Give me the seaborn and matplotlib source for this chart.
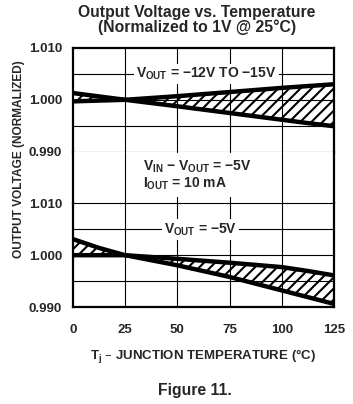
import matplotlib
matplotlib.use('Agg')
import matplotlib.pyplot as plt
import seaborn as sns
import numpy as np

# --- data (volts, normalized) ---
temps = [0, 12.5, 25, 50, 75, 100, 112.5, 125]

# V_OUT = -12V to -15V band
top_upper = [1.0013, 1.00065, 1.0000, 1.0007, 1.0015, 1.0023, 1.00265, 1.0030]
top_lower = [0.9997, 0.99985, 1.0000, 0.99875, 0.99745, 0.99615, 0.9955, 0.9949]

# V_OUT = -5V band
bot_upper = [1.0031, 1.0014, 1.0000, 0.9993, 0.99855, 0.9977, 0.99695, 0.9961]
bot_lower = [1.0000, 1.0000, 1.0000, 0.99805, 0.9958, 0.9932, 0.9919, 0.9906]

x_ticks = [0, 25, 50, 75, 100, 125]
y_ticks = [0.990, 1.000, 1.010]
y_ticklabels = ['0.990', '1.000', '1.010']

# --- style ---
sns.set_style('white')
plt.rcParams['hatch.linewidth'] = 1.5
plt.rcParams['hatch.color'] = 'black'
FONT = 'Liberation Sans'
plt.rcParams['font.family'] = [FONT, 'DejaVu Sans']
plt.rcParams['font.weight'] = 'bold'

fig = plt.figure(figsize=(3.53, 4.04), dpi=100)
gs = fig.add_gridspec(3, 1, height_ratios=[2, 1, 2], hspace=0,
                      left=73 / 353, right=334 / 353,
                      top=1 - 48 / 404, bottom=1 - 307 / 404)
ax_top = fig.add_subplot(gs[0])
ax_mid = fig.add_subplot(gs[1], sharex=ax_top)
ax_bot = fig.add_subplot(gs[2], sharex=ax_top)

THICK = 1.6
THIN = 0.8


def draw_band(ax, upper, lower):
    ax.fill_between(temps, upper, lower, facecolor='none', edgecolor='black',
                    hatch='///', linewidth=0, zorder=2)
    sns.lineplot(x=temps, y=upper, ax=ax, color='black', linewidth=3.2,
                 zorder=3, solid_capstyle='butt')
    sns.lineplot(x=temps, y=lower, ax=ax, color='black', linewidth=3.2,
                 zorder=3, solid_capstyle='butt')
    ax.set_ylim(0.990, 1.010)
    ax.set_yticks(y_ticks)
    ax.set_yticklabels(y_ticklabels)
    for yv in [0.995, 1.000, 1.005]:
        ax.axhline(yv, color='black', linewidth=THIN, zorder=1)


draw_band(ax_top, top_upper, top_lower)
draw_band(ax_bot, bot_upper, bot_lower)
ax_mid.set_ylim(0, 1)
ax_mid.set_yticks([])

for ax in (ax_top, ax_mid, ax_bot):
    ax.set_xlim(0, 125)
    ax.set_xticks(x_ticks)
    for xv in x_ticks[1:-1]:
        ax.axvline(xv, color='black', linewidth=THIN, zorder=1)
    for s in ax.spines.values():
        s.set_color('black')
        s.set_linewidth(THICK)
    ax.tick_params(length=0, labelsize=9.5, pad=8)
    ax.set_xlabel('')
    ax.set_ylabel('')
    for lab in ax.get_yticklabels() + ax.get_xticklabels():
        lab.set_fontweight('bold')

ax_top.spines['bottom'].set_linewidth(THIN)
ax_bot.spines['top'].set_linewidth(THIN)
ax_mid.spines['top'].set_visible(False)
ax_mid.spines['bottom'].set_visible(False)
ax_top.tick_params(labelbottom=False)
ax_mid.tick_params(labelbottom=False)
ax_bot.tick_params(axis='x', pad=12)

box = dict(facecolor='white', edgecolor='none', pad=1.5)
ax_top.text(64, 1.005, r'$\mathregular{V_{OUT}}$ = −12V TO −15V', ha='center',
            va='center', fontsize=10, fontweight='bold', bbox=box, zorder=4)
ax_bot.text(61, 1.005, r'$\mathregular{V_{OUT}}$ = −5V', ha='center',
            va='center', fontsize=10, fontweight='bold', bbox=box, zorder=4)
ax_mid.text(33.5, 0.54,
            '$\\mathregular{V_{IN}}$ − $\\mathregular{V_{OUT}}$ = −5V\n$\\mathregular{I_{OUT}}$ = 10 mA',
            ha='left', va='center', fontsize=10, fontweight='bold', linespacing=1.0,
            bbox=dict(facecolor='white', edgecolor='none', pad=4), zorder=4)

# titles and axis labels
fig.text(196.5 / 353, 1 - 12.7 / 404, 'Output Voltage vs. Temperature',
         ha='center', va='center', fontsize=11.3, fontweight='bold')
fig.text(197 / 353, 1 - 27 / 404, '(Normalized to 1V @ 25°C)',
         ha='center', va='center', fontsize=11.3, fontweight='bold')
fig.text(19 / 353, 1 - 159 / 404, 'OUTPUT VOLTAGE (NORMALIZED)', rotation=90,
         ha='center', va='center', fontsize=8.6, fontweight='bold')
fig.text(203 / 353, 1 - 357 / 404, r'$\mathregular{T_j}$ – JUNCTION TEMPERATURE (°C)',
         ha='center', va='center', fontsize=9.5, fontweight='bold')
fig.text(194.5 / 353, 1 - 391 / 404, 'Figure 11.', ha='center', va='center',
         fontsize=11.3, fontweight='bold')

fig.savefig('out.png', dpi=100)
